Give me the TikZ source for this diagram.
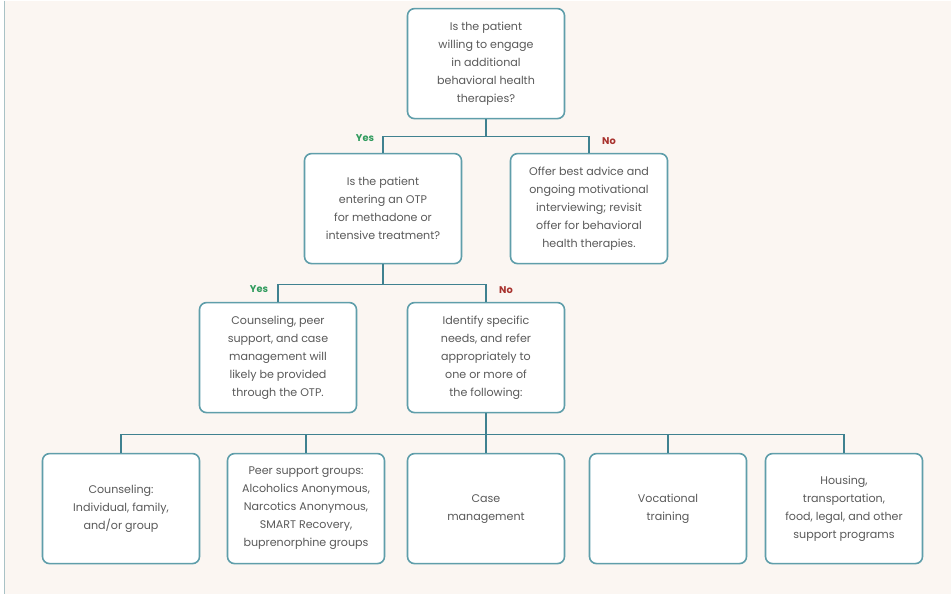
\documentclass[tikz,border=0pt]{standalone}
\usepackage{fontspec}
\setmainfont{Poppins}
\usetikzlibrary{calc}
\definecolor{bgc}{HTML}{FBF6F2}
\definecolor{boxline}{HTML}{5F9EAA}
\definecolor{conn}{HTML}{3F8190}
\definecolor{txt}{HTML}{5A5A5A}
\definecolor{yesc}{HTML}{2E9A5C}
\definecolor{noc}{HTML}{A8322E}
\definecolor{edgec}{HTML}{A9C2C6}
\tikzset{
  x=1pt, y=-1pt,
  box/.style={draw=boxline, line width=1.6pt, fill=white, rounded corners=7pt,
    minimum width=157pt, minimum height=110pt, inner sep=2pt, align=center,
    text=txt, font=\fontsize{11.1}{18}\selectfont},
  conline/.style={draw=conn, line width=1.6pt},
  yeslab/.style={text=yesc, font=\fontsize{9.8}{11}\selectfont\bfseries, inner sep=0pt},
  nolab/.style={text=noc, font=\fontsize{9.8}{11}\selectfont\bfseries, inner sep=0pt},
}
\begin{document}
\begin{tikzpicture}
\fill[bgc] (0,0) rectangle (951,593);
\fill[white] (0,0) rectangle (4,593);
\draw[edgec, line width=1.2pt] (4.6,0) -- (4.6,593);
\useasboundingbox (0,0) rectangle (951,593);

\node[box] (q1) at (486,63) {Is the patient\\willing to engage\\in additional\\behavioral health\\therapies?};
\node[box] (q2) at (383,208) {Is the patient\\entering an OTP\\for methadone or\\intensive treatment?};
\node[box] (off) at (589,208) {Offer best advice and\\ongoing motivational\\interviewing; revisit\\offer for behavioral\\health therapies.};
\node[box] (otp) at (278,357) {Counseling, peer\\support, and case\\management will\\likely be provided\\through the OTP.};
\node[box] (ident) at (486,357) {Identify specific\\needs, and refer\\appropriately to\\one or more of\\the following:};
\node[box] (r1) at (121,508) {Counseling:\\Individual, family,\\and/or group};
\node[box] (r2) at (306,508) {Peer support groups:\\Alcoholics Anonymous,\\Narcotics Anonymous,\\SMART Recovery,\\buprenorphine groups};
\node[box] (r3) at (486,508) {Case\\management};
\node[box] (r4) at (668,508) {Vocational\\training};
\node[box] (r5) at (844,508) {Housing,\\transportation,\\food, legal, and other\\support programs};

\coordinate (b1) at ($(q1.south)+(0,17)$);
\coordinate (b2) at ($(q2.south)+(0,20)$);
\coordinate (b3) at ($(ident.south)+(0,21)$);

\draw[conline] (q1.south) -- (b1);
\draw[conline] (q2.north) |- (b1) -| (off.north);
\draw[conline] (q2.south) -- (b2);
\draw[conline] (otp.north) |- (b2) -| (ident.north);
\draw[conline] (ident.south) -- (b3);
\draw[conline] (r1.north) |- (b3) -| (r5.north);
\draw[conline] (r2.north) -- (r2.north |- b3);
\draw[conline] (r3.north) -- (r3.north |- b3);
\draw[conline] (r4.north) -- (r4.north |- b3);

\node[yeslab] (y1) at (365,137) {Yes};
\node[nolab] (n1) at (609,140) {No};
\node[yeslab] (y2) at (259,288) {Yes};
\node[nolab] (n2) at (506,289) {No};
\end{tikzpicture}
\end{document}
